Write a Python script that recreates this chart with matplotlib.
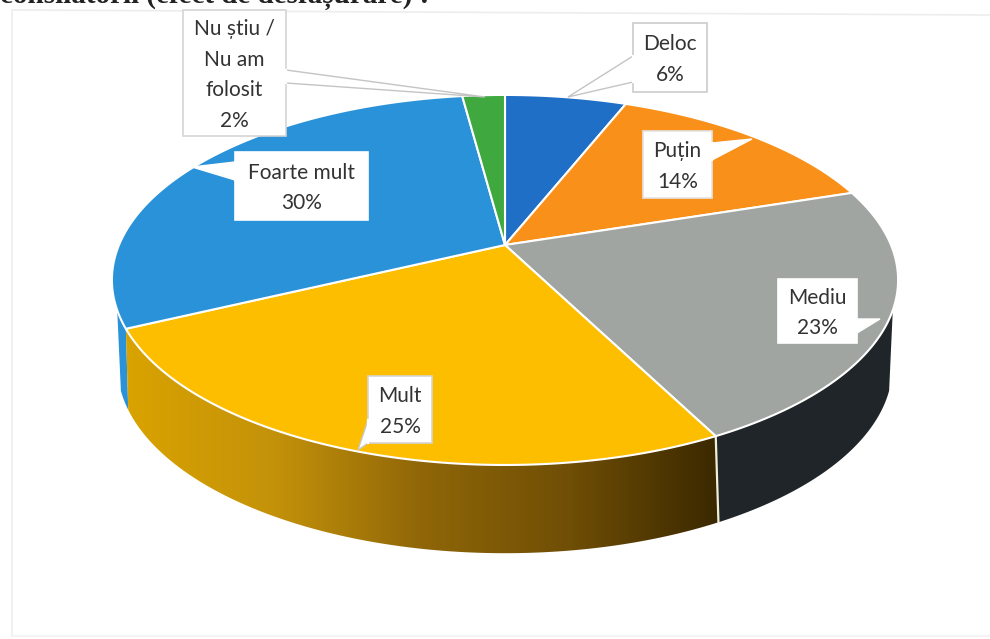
import numpy as np
import matplotlib
matplotlib.use("Agg")
import matplotlib.pyplot as plt
from matplotlib.colors import LinearSegmentedColormap
from matplotlib.patches import Polygon

# Valores (las etiquetas van redondeadas)
categorias = ["Deloc", "Puțin", "Mediu", "Mult", "Foarte mult", "Nu știu /\nNu am\nfolosit"]
valores = [6, 14, 22.5, 25.4, 30, 2.1]
etiquetas = ["6%", "14%", "23%", "25%", "30%", "2%"]
colores = ["#1F6FC6", "#F8901A", "#A0A5A2", "#FDBE00", "#2A92D8", "#3FA83F"]

# Perspectiva de la cara superior e inferior (en pixeles de la imagen)
x0, y0 = 505, 245
rx, ry, c = 386, 178.4, 0.189
x0b, y0b = 505, 325
rxb, ryb, cb = 378, 178, 0.22

# Caja de cada etiqueta: x1, x2, y1, y2 y la punta del globo
cajas = [
    (633, 707, 23, 92, [(633, 56), (568, 97), (633, 82)]),
    (643, 712, 131, 198, [(712, 143), (752, 139), (712, 160)]),
    (778, 857, 279, 343, [(857, 319), (880, 319), (857, 333)]),
    (368, 432, 376, 443, [(368, 420), (358, 450), (368, 443)]),
    (235, 368, 152, 220, [(235, 162), (192, 167), (235, 180)]),
    (183, 286, 10, 136, [(286, 70), (485, 97), (286, 83)]),
]
bordes = ["#CCCCCC", "#E4E4E4", "white", "#D4D4D4", "white", "#D4D4D4"]
bordes_globo = ["#C4C4C4", "white", "white", "#C8C8C8", "white", "#C4C4C4"]

titulo = "consilatorii (efect de desfășurare) :"


def cara_superior(ang):
    u, v = np.sin(ang), np.cos(ang)
    d = 1 + c * v
    return x0 + rx * u / d, y0 - ry * v / d


def cara_inferior(ang):
    u, v = np.sin(ang), np.cos(ang)
    d = 1 + cb * v
    return x0b + rxb * u / d, y0b - ryb * v / d


def pared(a1, a2):
    ang = np.radians(np.linspace(a1, a2, 80))
    xt, yt = cara_superior(ang)
    xb, yb = cara_inferior(ang)
    return np.column_stack([np.r_[xt, xb[::-1]], np.r_[yt, yb[::-1]]])


fig = plt.figure(figsize=(9.9, 6.39), dpi=100)
ax = fig.add_axes([0, 0, 1, 1])
ax.axis("off")

# Marco claro y titulo cortado del escaneo
ax.plot([12, 12, 990], [636, 10, 15], color="#EDEDED", lw=1.2)
ax.plot([12, 990], [636, 636], color="#F2F2F2", lw=1.2)
ax.text(0, -4, titulo, family="Liberation Serif", fontsize=21, fontweight="bold",
        color="#222222", ha="left", va="center")

fin = np.cumsum(valores) / np.sum(valores) * 360
inicio = np.r_[0, fin[:-1]]

# Paredes laterales visibles
pared_azul = Polygon(pared(fin[3], 250), closed=True, fc=colores[4], ec="none")
ax.add_patch(pared_azul)
pared_negra = Polygon(pared(110, fin[2]), closed=True, fc="#1F2528", ec="none")
ax.add_patch(pared_negra)

pared_mult = Polygon(pared(fin[2], fin[3]), closed=True, fc="none", ec="none")
ax.add_patch(pared_mult)
degradado = LinearSegmentedColormap.from_list(
    "mult", ["#D9A300", "#C4920A", "#8F6608", "#6F4E05", "#3A2800"])
im = ax.imshow(np.linspace(0, 1, 256).reshape(1, -1), cmap=degradado,
               extent=(125, 720, 560, 320), aspect="auto", zorder=1.5)
im.set_clip_path(pared_mult)

# Separador claro entre las paredes
xs, ys = cara_superior(np.radians(fin[2]))
xi, yi = cara_inferior(np.radians(fin[2]))
ax.plot([xs, xi], [ys, yi], color="#F2EFD8", lw=1.6, zorder=2)

# Cara superior
for a1, a2, col in zip(inicio, fin, colores):
    ang = np.radians(np.linspace(a1, a2, 120))
    xt, yt = cara_superior(ang)
    puntos = np.column_stack([np.r_[x0, xt], np.r_[y0, yt]])
    ax.add_patch(Polygon(puntos, closed=True, fc=col, ec="white", lw=1.5,
                         joinstyle="round", zorder=3))

# Globos de las etiquetas
for cat, et, caja, borde, borde_g in zip(categorias, etiquetas, cajas, bordes, bordes_globo):
    x1, x2, y1, y2, globo = caja
    ax.add_patch(Polygon(globo, closed=True, fc="white", ec=borde_g, lw=1.0, zorder=4))
    ax.add_patch(Polygon([(x1, y1), (x2, y1), (x2, y2), (x1, y2)], closed=True,
                         fc="white", ec=borde, lw=1.2, zorder=5))
    ax.plot([globo[0][0], globo[2][0]], [globo[0][1], globo[2][1]], color="white",
            lw=1.6, zorder=5.5)
    ax.text((x1 + x2) / 2, (y1 + y2) / 2 + 2, cat + "\n" + et, family="Lato", fontsize=15,
            color="#333333", ha="center", va="center", linespacing=1.68, zorder=6)

ax.set_xlim(0, 990)
ax.set_ylim(639, 0)

fig.savefig("out.png", dpi=100, facecolor="white")
